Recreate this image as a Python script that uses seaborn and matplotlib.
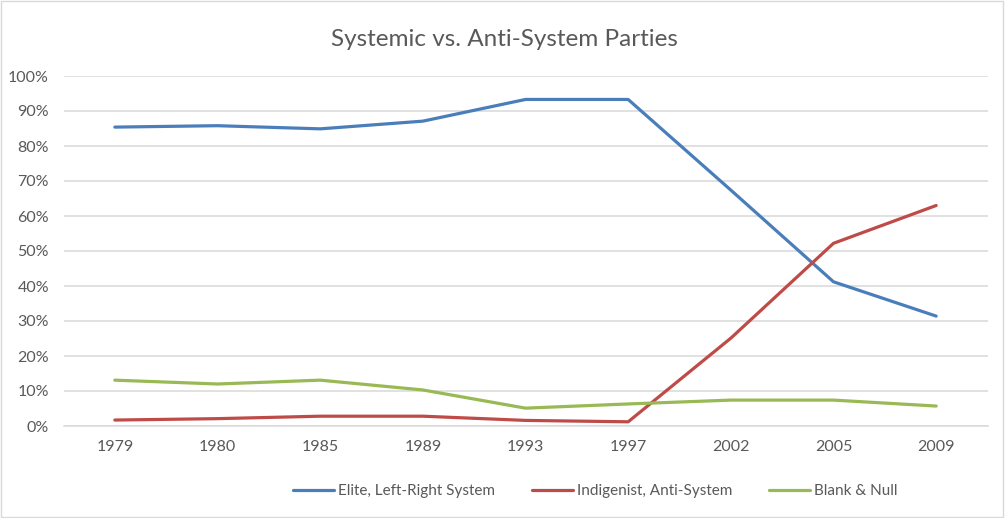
import matplotlib
matplotlib.use("Agg")
import matplotlib.pyplot as plt
import seaborn as sns
import pandas as pd
from matplotlib.ticker import PercentFormatter, MultipleLocator
from matplotlib.patches import Rectangle

years = ["1979", "1980", "1985", "1989", "1993", "1997", "2002", "2005", "2009"]
elite = [0.854, 0.858, 0.849, 0.871, 0.933, 0.933, 0.674, 0.412, 0.314]
indigenist = [0.017, 0.021, 0.028, 0.028, 0.016, 0.012, 0.251, 0.522, 0.630]
blank_null = [0.131, 0.120, 0.131, 0.103, 0.051, 0.063, 0.074, 0.074, 0.057]
series_names = ["Elite, Left-Right System", "Indigenist, Anti-System", "Blank & Null"]
colors = ["#4A7EBB", "#BE4B48", "#98B954"]

rows = []
for name, vals in zip(series_names, [elite, indigenist, blank_null]):
    for i, (y, v) in enumerate(zip(years, vals)):
        rows.append({"pos": i, "Year": y, "Share": v, "Series": name})
df = pd.DataFrame(rows)

sns.set_theme(style="white")
plt.rcParams["font.family"] = ["Lato", "DejaVu Sans"]

fig = plt.figure(figsize=(10.05, 5.18), dpi=100)
ax = fig.add_axes([63.5 / 1005, 1 - 426 / 518, (987.5 - 63.5) / 1005, 350 / 518])

sns.lineplot(data=df, x="pos", y="Share", hue="Series", palette=colors,
             hue_order=series_names, linewidth=2.3, ax=ax, legend=False)
for line in ax.lines:
    line.set_solid_capstyle("round")
    line.set_solid_joinstyle("round")

ax.set_xlim(-0.5, len(years) - 0.5)
ax.set_ylim(0, 1.0)
ax.set_xticks(range(len(years)))
ax.set_xticklabels(years)
ax.yaxis.set_major_locator(MultipleLocator(0.1))
ax.yaxis.set_major_formatter(PercentFormatter(1.0, decimals=0))
ax.grid(axis="y", color="#D9D9D9", linewidth=1.1)
ax.set_axisbelow(True)
for s in ["top", "right", "left"]:
    ax.spines[s].set_visible(False)
ax.spines["bottom"].set_color("#D9D9D9")
ax.spines["bottom"].set_linewidth(1.1)
ax.tick_params(axis="both", length=0, labelsize=11.5, colors="#595959")
ax.tick_params(axis="x", pad=10)
ax.tick_params(axis="y", pad=10.4)
ax.set_xlabel("")
ax.set_ylabel("")

fig.text(504 / 1005, 1 - 40 / 518, "Systemic vs. Anti-System Parties",
         ha="center", va="center", fontsize=17.5, color="#595959")

handles = [plt.Line2D([0], [0], color=c, linewidth=2.3) for c in colors]
fig.legend(handles, series_names, loc="center", ncol=3, frameon=False,
           bbox_to_anchor=(595 / 1005, 1 - 491 / 518), fontsize=11,
           labelcolor="#595959", handlelength=2.7, handletextpad=0.25,
           columnspacing=2.4)

fig.patches.append(Rectangle((0.001, 0.002), 0.997, 0.996, transform=fig.transFigure,
                             fill=False, edgecolor="#D9D9D9", linewidth=1))

fig.savefig("out.png", dpi=100)
